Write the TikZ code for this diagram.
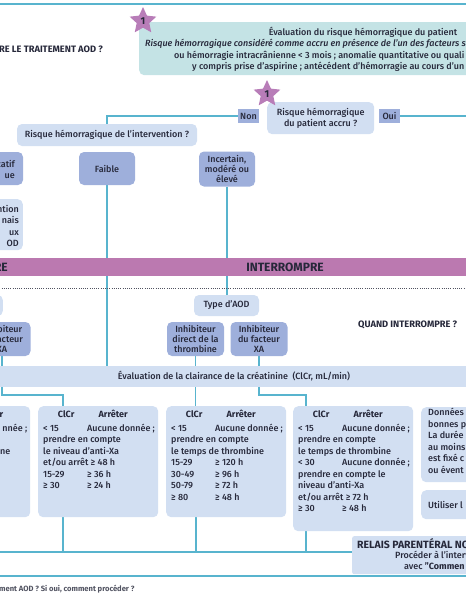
\documentclass[tikz,border=0pt]{standalone}
\usepackage{fontspec}
\setmainfont{Fira Sans}[UprightFont={* Medium}, ItalicFont={* Medium Italic}, BoldFont={* Bold}]
\usetikzlibrary{shapes.geometric,backgrounds}

\definecolor{cLink}{RGB}{88,180,206}
\definecolor{cTeal}{RGB}{196,227,229}
\definecolor{cLight}{RGB}{210,223,242}
\definecolor{cDark}{RGB}{158,175,219}
\definecolor{cBand}{RGB}{187,121,176}
\definecolor{cStar}{RGB}{184,125,184}
\definecolor{cInk}{RGB}{38,40,58}

\begin{document}
\begin{tikzpicture}[x=1pt,y=-1pt,
    every node/.style={font=\fontsize{9}{11.5}\selectfont, text=cInk, inner sep=0pt},
    softbox/.style={fill=cLight, rounded corners=5pt, align=center},
    choicebox/.style={fill=cDark, rounded corners=5pt, align=center,
        font=\fontsize{9}{10.3}\selectfont},
    tealbox/.style={fill=cTeal, rounded corners=5pt},
    tagbox/.style={fill=cDark, minimum width=21pt, minimum height=14pt},
    head/.style={font=\fontsize{9.3}{11}\selectfont\bfseries},
    bandtext/.style={font=\fontsize{12}{14}\selectfont\bfseries},
    bigstar/.style={star, star points=5, star point ratio=2.1, fill=cStar,
        minimum size=28pt, font=\fontsize{10}{12}\selectfont\bfseries},
    link/.style={draw=cLink, line width=1.1pt},
    rule/.style={draw=cLink, line width=1.6pt},
    dotline/.style={draw=cInk!80, line width=0.9pt, dash pattern=on 0.9pt off 1.3pt}]
    \useasboundingbox (0,0) rectangle (466,600);
    \clip (0,0) rectangle (466,600);

    \coordinate (topL) at (-5,4);
    \coordinate (topR) at (471,4);
    \draw[rule] (topL) -- (topR);
    \node[head, anchor=base east] (title) at (103,52) {RE LE TRAITEMENT AOD ?};

    % patient
    \node[tealbox, minimum width=460pt, minimum height=53pt, anchor=north west] (patient) at (139,22) {};
    \node[anchor=base] (patientA) at (363,35) {Évaluation du risque hémorragique du patient};
    \node[anchor=base west, font=\fontsize{9}{11.5}\selectfont\itshape] (patientB) at (145,46.5)
        {Risque hémorragique considéré comme accru en présence de l’un des facteurs su};
    \node[anchor=base west] (patientC) at (174,58) {ou hémorragie intracrânienne < 3 mois ; anomalie quantitative ou quali};
    \node[anchor=base west] (patientD) at (192,69.5) {y compris prise d’aspirine ; antécédent d’hémorragie au cours d’un};
    \node[bigstar] (star1) at (143,21) {1};

    \node[softbox, minimum width=107pt, minimum height=32pt, anchor=north west] (accru) at (267,102)
        {Risque hémorragique\\du patient accru ?};
    \node[bigstar] (star2) at (267,94) {1};
    \node[tagbox] (non) at (248.5,116) {Non};
    \node[tagbox] (oui) at (389.5,116) {Oui};
    \coordinate (ouiEnd) at (471,116);

    % intervention
    \node[softbox, minimum width=180pt, minimum height=22pt] (interv) at (107,135) {Risque hémorragique de l’intervention ?};
    \node[choicebox, minimum width=56pt, minimum height=33pt] (nonsig) at (-5,168.5) {};
    \node[anchor=east, align=right, font=\fontsize{9}{11.5}\selectfont] (nonsigtxt) at (15,169.5) {catif\\ue};
    \node[choicebox, minimum width=56pt, minimum height=33pt] (faible) at (107,168.5) {Faible};
    \node[choicebox, minimum width=56pt, minimum height=35pt] (eleve) at (227,169) {Incertain,\\modéré ou\\élevé};
    \node[softbox, minimum width=64pt, minimum height=51pt, anchor=north east] (leftnote) at (23,199) {};
    \node[anchor=east, align=right] (leftnotetxt) at (19,226) {ntion\\nais\\ux\\OD};

    % interrompre
    \node[fill=cBand, minimum width=490pt, minimum height=18pt] (band) at (233,267) {};
    \node[bandtext, anchor=east] (bandRE) at (8,267.5) {RE};
    \node[bandtext] (bandInt) at (285,267.5) {INTERROMPRE};
    \coordinate (dotL) at (-5,288);
    \coordinate (dotR) at (471,288);
    \draw[dotline] (dotL) -- (dotR);

    \node[softbox, minimum width=65pt, minimum height=21pt] (typeaod) at (226.5,305.5) {Type d’AOD};
    \node[softbox, minimum width=60pt, minimum height=21pt, anchor=east] (typeaodL) at (3,305.5) {};
    \node[choicebox, minimum width=57pt, minimum height=34pt] (inhDirect) at (195.5,339) {Inhibiteur\\direct de la\\thrombine};
    \node[choicebox, minimum width=57pt, minimum height=34pt] (inhXa) at (259,339) {Inhibiteur\\du facteur\\XA};
    \node[choicebox, minimum width=57pt, minimum height=34pt] (inhXaL) at (2,339) {Inhibiteur\\du facteur\\XA};
    \node[head, anchor=west] (quand) at (358,325) {QUAND INTERROMPRE ?};

    \node[fill=cLight, minimum width=500pt, minimum height=21pt] (clair) at (234,376.5)
        {Évaluation de la clairance de la créatinine\enspace(ClCr, mL/min)};
    \coordinate (knee) at (0,395);

    % clcr tables
    \node[softbox, minimum width=120pt, minimum height=111pt, anchor=north west] (clcr0) at (-90,406) {};
    \node[anchor=north west] (clcr0txt) at (-85,409) {%
        \begin{tabular}{@{}p{44pt}@{}l@{}}
        \multicolumn{2}{@{}l@{}}{\makebox[46pt]{}\makebox[48pt][r]{\textbf{r}\hspace{6pt}}}\\[2.5pt]
        & \makebox[68pt][r]{nnée ;}\\
        \\
        \multicolumn{2}{@{}l@{}}{\hspace{85pt}ne}
        \end{tabular}};

    \node[softbox, minimum width=120pt, minimum height=111pt, anchor=north west] (clcrA) at (38,406) {};
    \node[anchor=north west] (clcrAtxt) at (43,409) {%
        \begin{tabular}{@{}p{44pt}@{}l@{}}
        \multicolumn{2}{@{}l@{}}{\makebox[46pt]{\textbf{ClCr}}\makebox[48pt]{\textbf{Arrêter}}}\\[2.5pt]
        < 15 & Aucune donnée ;\\
        \multicolumn{2}{@{}l@{}}{prendre en compte}\\
        \multicolumn{2}{@{}l@{}}{le niveau d’anti-Xa}\\
        \multicolumn{2}{@{}l@{}}{et/ou arrêt ≥ 48 h}\\
        15-29 & ≥ 36 h\\
        ≥ 30 & ≥ 24 h
        \end{tabular}};

    \node[softbox, minimum width=120pt, minimum height=111pt, anchor=north west] (clcrB) at (166,406) {};
    \node[anchor=north west] (clcrBtxt) at (171,409) {%
        \begin{tabular}{@{}p{44pt}@{}l@{}}
        \multicolumn{2}{@{}l@{}}{\makebox[46pt]{\textbf{ClCr}}\makebox[48pt]{\textbf{Arrêter}}}\\[2.5pt]
        < 15 & Aucune donnée ;\\
        \multicolumn{2}{@{}l@{}}{prendre en compte}\\
        \multicolumn{2}{@{}l@{}}{le temps de thrombine}\\
        15-29 & ≥ 120 h\\
        30-49 & ≥ 96 h\\
        50-79 & ≥ 72 h\\
        ≥ 80 & ≥ 48 h
        \end{tabular}};

    \node[softbox, minimum width=120pt, minimum height=125pt, anchor=north west] (clcrC) at (293,406) {};
    \node[anchor=north west] (clcrCtxt) at (298,409) {%
        \begin{tabular}{@{}p{44pt}@{}l@{}}
        \multicolumn{2}{@{}l@{}}{\makebox[46pt]{\textbf{ClCr}}\makebox[48pt]{\textbf{Arrêter}}}\\[2.5pt]
        < 15 & Aucune donnée ;\\
        \multicolumn{2}{@{}l@{}}{prendre en compte}\\
        \multicolumn{2}{@{}l@{}}{le temps de thrombine}\\
        < 30 & Aucune donnée ;\\
        \multicolumn{2}{@{}l@{}}{prendre en compte le}\\
        \multicolumn{2}{@{}l@{}}{niveau d’anti-Xa}\\
        \multicolumn{2}{@{}l@{}}{et/ou arrêt ≥ 72 h}\\
        ≥ 30 & ≥ 48 h
        \end{tabular}};

    \node[softbox, minimum width=120pt, minimum height=75pt, anchor=north west] (donnees) at (421,407) {};
    \node[anchor=north west, align=left] (donneestxt) at (428,408)
        {Données\\bonnes p\\La durée\\au moins\\est fixé c\\ou évent};
    \node[softbox, minimum width=120pt, minimum height=29pt, anchor=north west] (utiliser) at (421,490) {};
    \node[anchor=west] (utilisertxt) at (428,504.5) {Utiliser l};

    \node[fill=cLight, rounded corners=2pt, minimum width=200pt, minimum height=38pt, anchor=north west] (relais) at (352,536) {};
    \node[anchor=base west, font=\fontsize{10.5}{12}\selectfont\bfseries] (relaisA) at (357,548) {RELAIS PARENTÉRAL NO};
    \node[anchor=base west] (relaisB) at (395,558.5) {Procéder à l’interv};
    \node[anchor=base west] (relaisC) at (404,569) {avec \textbf{"Commen}};

    \coordinate (colA) at (63,552);
    \coordinate (colB) at (196,552);
    \coordinate (colC) at (306,552);
    \coordinate (busL) at (-5,552);
    \coordinate (botL) at (-5,576);
    \coordinate (botR) at (471,576);
    \draw[rule] (botL) -- (botR);
    \node[anchor=base west, font=\fontsize{7.6}{9}\selectfont\bfseries, text=cInk!80] (footer) at (-1,591)
        {ment AOD ? Si oui, comment procéder ?};

    \begin{scope}[on background layer]
    \clip (0,0) rectangle (466,600);
    \draw[link] (non.west) -| (interv.north);
    \draw[link] (oui.east) -- (ouiEnd);
    \draw[link] (faible.south) -- (faible.south |- clair.north);
    \draw[link] (eleve.south) -- (eleve.south |- typeaod.north);
    \draw[link] (inhDirect.south) -- (inhDirect.south |- clcrB.north);
    \draw[link] (inhXaL.south) -- (inhXaL.south |- knee) -| (colA |- clcrA.north);
    \draw[link] (inhXa.south) -- (inhXa.south |- knee) -| (colC |- clcrC.north);
    \draw[link] (colA |- clcrA.south) -- (colA);
    \draw[link] (colB |- clcrB.south) -- (colB);
    \draw[link] (colC |- clcrC.south) -- (colC);
    \draw[link] (busL) -- (busL -| relais.west);
    \end{scope}
\end{tikzpicture}
\end{document}
